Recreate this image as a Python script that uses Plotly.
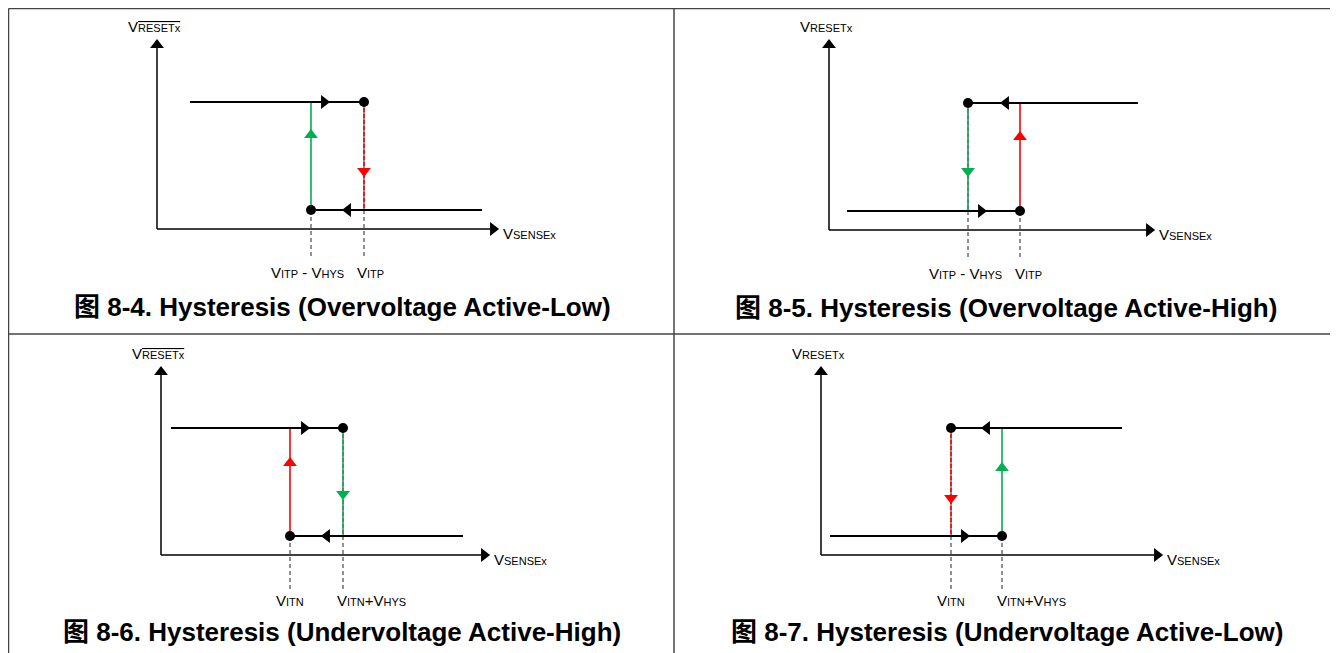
import plotly.graph_objects as go

# ---------------- data (schematic units, measured from each panel's origin) ----------------
titles = [
    "图 8-4. Hysteresis (Overvoltage Active-Low)",
    "图 8-5. Hysteresis (Overvoltage Active-High)",
    "图 8-6. Hysteresis (Undervoltage Active-High)",
    "图 8-7. Hysteresis (Undervoltage Active-Low)",
]
SUB = "<span style='font-size:11px'>{}</span>"
SUBO = "<span style='font-size:11px;text-decoration:overline'>{}</span>"
y_axis_names = ["RESETx", "RESETx", "RESETx", "RESETx"]
y_axis_overline = [True, False, True, False]
x_axis_name = "SENSEx"
low_thr_names = [["ITP", " - ", "HYS"], ["ITP", " - ", "HYS"], ["ITN"], ["ITN"]]
high_thr_names = [["ITP"], ["ITP"], ["ITN", "+", "HYS"], ["ITN", "+", "HYS"]]

x_axis_len = [343, 327, 330, 343]
y_axis_len = [191, 192, 190, 190]
thr_low = [154, 139, 129, 130]
thr_high = [207, 191, 182, 181]
level_hi = [127, 127, 127, 127]
level_lo = [19, 19, 19, 19]
rising_on_high = [True, False, True, False]
rising_start = [33, 18, 10, 9]
falling_start = [325, 309, 302, 301]
rising_arrow_tip = [174, 159, 150, 150]
falling_arrow_tip = [184, 170, 159, 159]
high_thr_color = ["red", "red", "green", "green"]
low_thr_color = ["green", "green", "red", "red"]
high_thr_dashed = [True, False, True, False]
low_thr_dashed = [False, True, False, True]
high_thr_arrow_tip = [51, 100, 54, 94]
low_thr_arrow_tip = [101, 52, 99, 50]
guide_bottom = [-29, -28, -35, -35]

# ---------------- layout / style ----------------
PAGE_OFF = 8                      # page body margin in the browser
W, H = 1338 - PAGE_OFF, 653 - PAGE_OFF
origins = [(157, 229), (829, 230), (161, 555), (821, 555)]
title_pos = [(342, 307), (1006, 308), (342, 632), (1007, 632)]
label_y = [-43, -43, -45, -45]
low_label_dx = [-4, -3, 0, 0]
high_label_mode = ["center", "center", "left", "left"]
high_label_dx = [6, 8, -8, -7]
COL = {"red": "#ff0000", "green": "#00b050"}
FONT = "Liberation Sans, Arial, Helvetica, sans-serif"
TFONT = "Liberation Sans, Arial, Noto Sans CJK SC, sans-serif"
LFS = 15
TRI = 12
TRI_OFF = 0.577 * TRI


def vtext(parts):
    s = ""
    for k, p in enumerate(parts):
        if k % 2 == 0:
            s += "V" + SUB.format(p)
        else:
            s += p
    return s


fig = go.Figure()
annotations = []
layout_axes = {}

for i in range(4):
    ox, oy = origins[i][0] - PAGE_OFF, origins[i][1] - PAGE_OFF
    xa = "x" if i == 0 else f"x{i+1}"
    ya = "y" if i == 0 else f"y{i+1}"
    layout_axes["xaxis" if i == 0 else f"xaxis{i+1}"] = dict(
        domain=[0, 1], range=[-ox, W - ox], visible=False, fixedrange=True, anchor=ya)
    layout_axes["yaxis" if i == 0 else f"yaxis{i+1}"] = dict(
        domain=[0, 1], range=[oy - H, oy], visible=False, fixedrange=True, anchor=xa)

    def line(xs, ys, color="black", width=1.5, dash=None):
        fig.add_trace(go.Scatter(x=xs, y=ys, mode="lines", xaxis=xa, yaxis=ya,
                                 line=dict(color=color, width=width, dash=dash),
                                 hoverinfo="skip", showlegend=False))

    def marker(x, y, symbol, color="black", size=TRI):
        fig.add_trace(go.Scatter(x=[x], y=[y], mode="markers", xaxis=xa, yaxis=ya,
                                 marker=dict(symbol=symbol, size=size, color=color,
                                             line=dict(width=0)),
                                 hoverinfo="skip", showlegend=False))

    hi, lo = level_hi[i], level_lo[i]
    lr = hi if rising_on_high[i] else lo
    lf = lo if rising_on_high[i] else hi

    # dashed guide lines down to labels
    for t in (thr_low[i], thr_high[i]):
        line([t, t], [lo, guide_bottom[i]], color="#222", width=1, dash="4px,3px")

    # vertical transitions
    for t, c, d, tip, frm, to in (
        (thr_high[i], high_thr_color[i], high_thr_dashed[i], high_thr_arrow_tip[i], lr, lf),
        (thr_low[i], low_thr_color[i], low_thr_dashed[i], low_thr_arrow_tip[i], lf, lr),
    ):
        if d:
            line([t, t], [frm, to], color="#222", width=1)
            line([t, t], [frm, to], color=COL[c], width=1.6, dash="4px,2px")
        else:
            line([t, t], [frm, to], color=COL[c], width=1.6)
        up = to > frm
        marker(t, tip - TRI_OFF if up else tip + TRI_OFF,
               "triangle-up" if up else "triangle-down", color=COL[c])

    # axes
    line([0, 0], [0, y_axis_len[i] - 6], width=1.5)
    line([0, x_axis_len[i] - 6], [0, 0], width=1.5)
    marker(0, y_axis_len[i] - TRI_OFF, "triangle-up")
    marker(x_axis_len[i] - TRI_OFF, 0, "triangle-right")

    # sweep lines
    line([rising_start[i], thr_high[i]], [lr, lr], width=2)
    line([falling_start[i], thr_low[i]], [lf, lf], width=2)
    marker(rising_arrow_tip[i] - TRI_OFF, lr, "triangle-right")
    marker(falling_arrow_tip[i] + TRI_OFF, lf, "triangle-left")
    marker(thr_high[i], lr, "circle", size=10)
    marker(thr_low[i], lf, "circle", size=10)

    # axis labels
    ysub = (SUBO if y_axis_overline[i] else SUB).format(y_axis_names[i])
    annotations.append(dict(xref=xa, yref=ya, x=-31, y=y_axis_len[i] + 12,
                            text="V" + ysub, showarrow=False, xanchor="left",
                            yanchor="middle", font=dict(family=FONT, size=LFS, color="black")))
    annotations.append(dict(xref=xa, yref=ya, x=x_axis_len[i] + 1, y=-4,
                            text="V" + SUB.format(x_axis_name), showarrow=False,
                            xanchor="left", yanchor="middle",
                            font=dict(family=FONT, size=LFS, color="black")))
    # threshold labels
    annotations.append(dict(xref=xa, yref=ya, x=thr_low[i] + low_label_dx[i], y=label_y[i],
                            text=vtext(low_thr_names[i]), showarrow=False, xanchor="center",
                            yanchor="middle", font=dict(family=FONT, size=LFS, color="black")))
    annotations.append(dict(xref=xa, yref=ya, x=thr_high[i] + high_label_dx[i], y=label_y[i],
                            text=vtext(high_thr_names[i]), showarrow=False,
                            xanchor=high_label_mode[i], yanchor="middle",
                            font=dict(family=FONT, size=LFS, color="black")))
    # title
    tx, ty = title_pos[i][0] - PAGE_OFF, title_pos[i][1] - PAGE_OFF
    annotations.append(dict(xref="paper", yref="paper", x=tx / W, y=1 - ty / H,
                            text="<b>" + titles[i] + "</b>", showarrow=False,
                            xanchor="center", yanchor="middle",
                            font=dict(family=TFONT, size=26, color="black")))

# frame lines (table grid)
grid = [
    (8.5, 8.5, 1338, 8.5),
    (8.5, 8.5, 8.5, 653),
    (674, 8.5, 674, 653),
    (8.5, 334, 1338, 334),
]
shapes = [dict(type="line", xref="paper", yref="paper",
               x0=(a - PAGE_OFF) / W, y0=1 - (b - PAGE_OFF) / H,
               x1=(c - PAGE_OFF) / W, y1=1 - (d - PAGE_OFF) / H,
               line=dict(color="#444", width=1.5)) for a, b, c, d in grid]

fig.update_layout(
    width=W, height=H, margin=dict(l=0, r=0, t=0, b=0),
    paper_bgcolor="white", plot_bgcolor="rgba(0,0,0,0)",
    showlegend=False, annotations=annotations, shapes=shapes,
    **layout_axes,
)
fig.write_html("out.html", config={"displayModeBar": False})
